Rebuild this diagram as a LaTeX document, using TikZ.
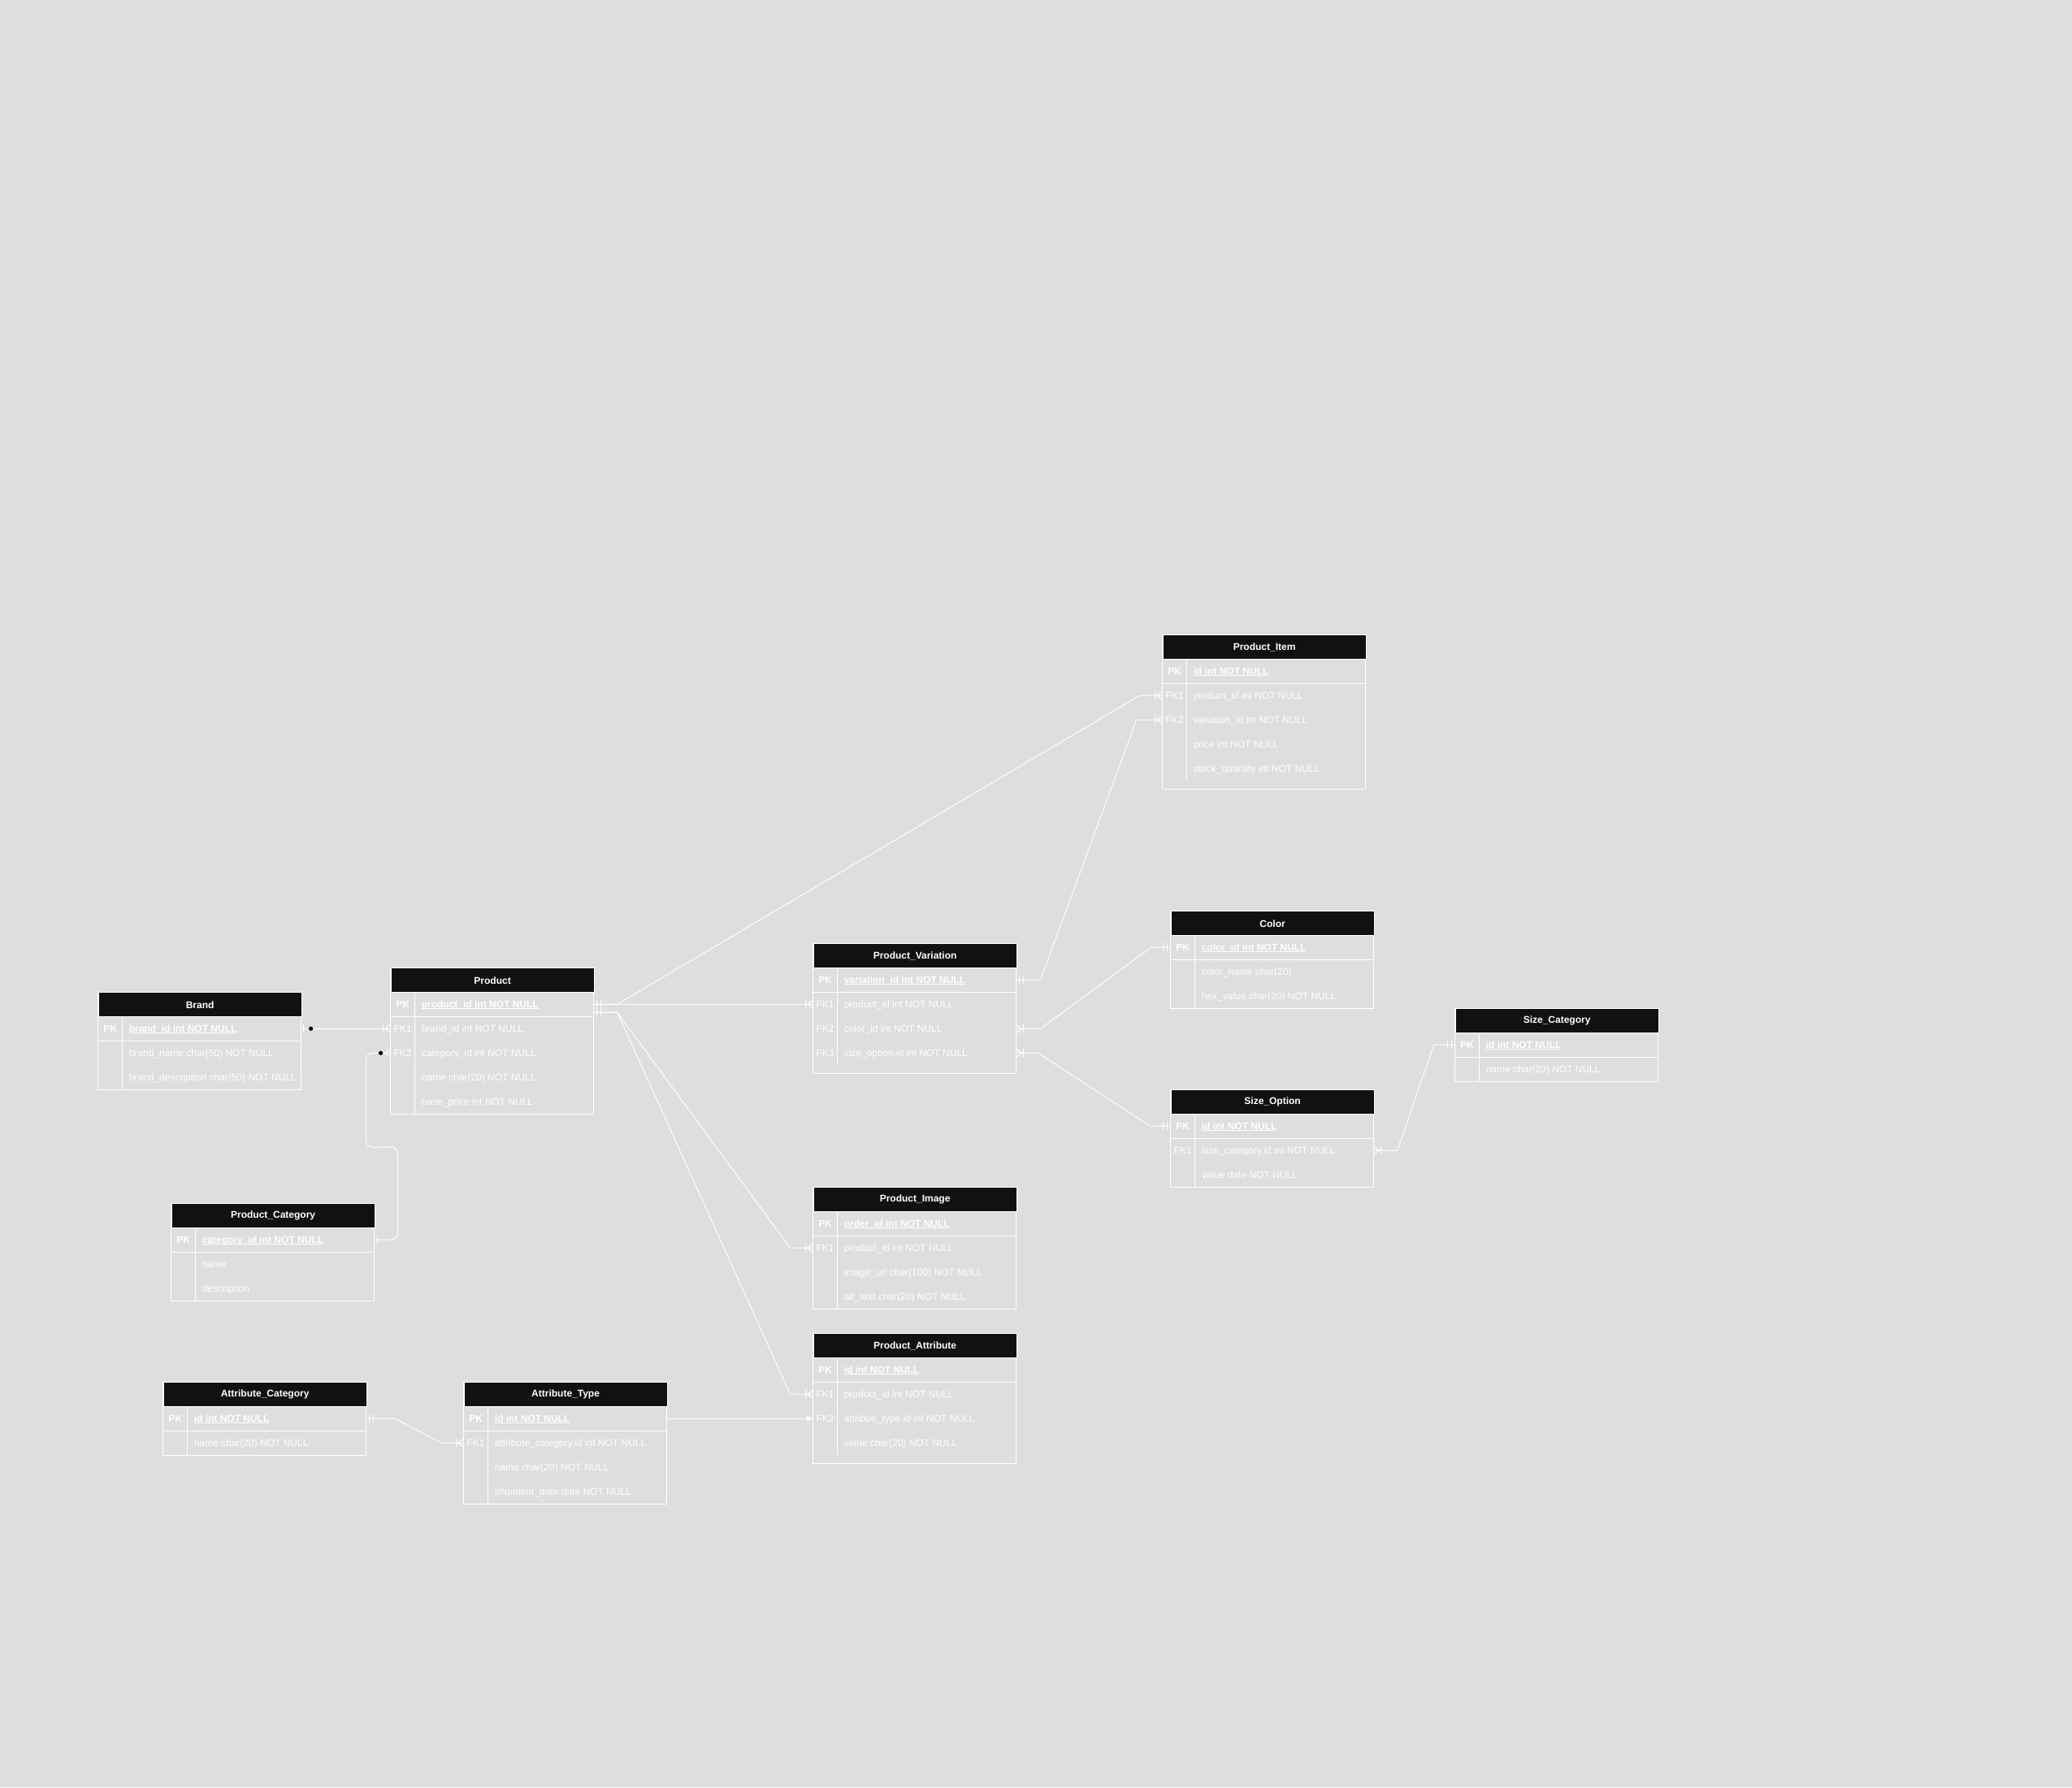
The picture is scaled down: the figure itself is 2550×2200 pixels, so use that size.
\documentclass[tikz,border=0pt]{standalone}
\usepackage{fontspec}
\setmainfont{Liberation Sans}
\usetikzlibrary{arrows.meta,calc}
\definecolor{bgc}{HTML}{DEDEDE}
\definecolor{hdrc}{HTML}{111111}
\newcommand\erfont{\fontsize{12}{14}\selectfont}
\newcommand\ulx[1]{\setbox0\hbox{#1}\rlap{\rule[-1.8pt]{\wd0}{1pt}}\box0}
\tikzset{
  tabline/.style={draw=white, line width=1pt},
  conn/.style={draw=white, line width=1pt},
  hdr/.style={fill=hdrc, draw=white, line width=1pt, text=white, font=\erfont\bfseries,
    minimum width=250pt, minimum height=30pt, inner sep=0pt, anchor=north west},
  keyt/.style={text=white, font=\erfont, inner sep=0pt, text height=10.9pt, text depth=2.5pt},
  fldt/.style={text=white, font=\erfont, inner sep=0pt, anchor=west, text height=10.9pt, text depth=2.5pt},
}
% table frame: id, x, y, title, height, divider length
\newcommand\ertab[6]{%
  \draw[tabline] (#2,#3) rectangle ++(250,#5);
  \draw[tabline] (#2,#3+60) -- ++(250,0);
  \draw[tabline] (#2+30,#3+30) -- (#2+30,#3+#6);
  \node[hdr] (#1) at (#2,#3) {#4};
}
% row: id, x, y-centre, key, text
\newcommand\errow[5]{%
  \node[keyt] (#1k) at (#2+15,#3) {#4};
  \node[fldt] (#1) at (#2+38,#3) {#5};
  \coordinate (#1L) at (#2,#3);
  \coordinate (#1R) at (#2+250,#3);
}
\newcommand\pkrow[4]{\errow{#1}{#2}{#3}{\textbf{PK}}{\textbf{\ulx{#4}}}}
% markers: coordinate, direction (1 = right, -1 = left)
\newcommand\mandone[2]{\begin{scope}[shift={(#1)},xscale=#2]
  \draw[conn] (4,-5) -- (4,5) (9,-5) -- (9,5);\end{scope}}
\newcommand\onemany[2]{\begin{scope}[shift={(#1)},xscale=#2]
  \draw[conn] (0,-5) -- (7,0) -- (0,5) (9,-5) -- (9,5);\end{scope}}
\newcommand\dotmany[2]{\begin{scope}[shift={(#1)},xscale=#2]
  \draw[conn] (0,-5) -- (7,0) -- (0,5);\fill[black] (12,0) circle (2.6);\end{scope}}
\newcommand\onedot[2]{\begin{scope}[shift={(#1)},xscale=#2]
  \draw[conn] (3,-5) -- (3,5);\fill[black] (12,0) circle (2.6);\end{scope}}
\newcommand\onebar[2]{\begin{scope}[shift={(#1)},xscale=#2]
  \draw[conn] (4,-5) -- (4,5);\end{scope}}

\begin{document}
\begin{tikzpicture}[x=1pt,y=-1pt]
\useasboundingbox (0,0) rectangle (2550,2200);
\fill[bgc] (0,0) rectangle (2550,2200);
\begin{scope}[shift={(0.6,1.2)}]

% Product_Item
\ertab{pi}{1430}{780}{Product\_Item}{190}{180}
\pkrow{piPK}{1430}{825}{id int NOT NULL}
\errow{piF1}{1430}{855}{FK1}{product\_id int NOT NULL}
\errow{piF2}{1430}{885}{FK2}{variation\_id int NOT NULL}
\errow{piR3}{1430}{915}{}{price int NOT NULL}
\errow{piR4}{1430}{945}{}{stock\_quantity int NOT NULL}

% Color
\ertab{co}{1440}{1120}{Color}{120}{120}
\pkrow{coPK}{1440}{1165}{color\_id int NOT NULL}
\errow{coR1}{1440}{1195}{}{color\_name char(20)}
\errow{coR2}{1440}{1225}{}{hex\_value char(20) NOT NULL}

% Size_Category
\ertab{sc}{1790}{1240}{Size\_Category}{90}{90}
\pkrow{scPK}{1790}{1285}{id int NOT NULL}
\errow{scR1}{1790}{1315}{}{name char(20) NOT NULL}

% Size_Option
\ertab{so}{1440}{1340}{Size\_Option}{120}{120}
\pkrow{soPK}{1440}{1385}{id int NOT NULL}
\errow{soF1}{1440}{1415}{FK1}{size\_category.id int NOT NULL}
\errow{soR2}{1440}{1445}{}{value date NOT NULL}

% Product_Variation
\ertab{pv}{1000}{1160}{Product\_Variation}{160}{150}
\pkrow{pvPK}{1000}{1205}{variation\_id int NOT NULL}
\errow{pvF1}{1000}{1235}{FK1}{product\_id int NOT NULL}
\errow{pvF2}{1000}{1265}{FK2}{color\_id int NOT NULL}
\errow{pvF3}{1000}{1295}{FK3}{size\_option.id int NOT NULL}

% Product
\ertab{pr}{480}{1190}{Product}{180}{180}
\pkrow{prPK}{480}{1235}{product\_id int NOT NULL}
\errow{prF1}{480}{1265}{FK1}{brand\_id int NOT NULL}
\errow{prF2}{480}{1295}{FK2}{category\_id int NOT NULL}
\errow{prR3}{480}{1325}{}{name char(20) NOT NULL}
\errow{prR4}{480}{1355}{}{base\_price int NOT NULL}

% Brand
\ertab{br}{120}{1220}{Brand}{120}{120}
\pkrow{brPK}{120}{1265}{brand\_id int NOT NULL}
\errow{brR1}{120}{1295}{}{brand\_name char(50) NOT NULL}
\errow{brR2}{120}{1325}{}{brand\_description char(50) NOT NULL}

% Product_Category
\ertab{pc}{210}{1480}{Product\_Category}{120}{120}
\pkrow{pcPK}{210}{1525}{category\_id int NOT NULL}
\errow{pcR1}{210}{1555}{}{name}
\errow{pcR2}{210}{1585}{}{description}

% Attribute_Category
\ertab{ac}{200}{1700}{Attribute\_Category}{90}{90}
\pkrow{acPK}{200}{1745}{id int NOT NULL}
\errow{acR1}{200}{1775}{}{name char(20) NOT NULL}

% Attribute_Type
\ertab{at}{570}{1700}{Attribute\_Type}{150}{150}
\pkrow{atPK}{570}{1745}{id int NOT NULL}
\errow{atF1}{570}{1775}{FK1}{attribute\_category.id int NOT NULL}
\errow{atR2}{570}{1805}{}{name char(20) NOT NULL}
\errow{atR3}{570}{1835}{}{shipment\_date date NOT NULL}

% Product_Image
\ertab{im}{1000}{1460}{Product\_Image}{150}{150}
\pkrow{imPK}{1000}{1505}{order\_id int NOT NULL}
\errow{imF1}{1000}{1535}{FK1}{product\_id int NOT NULL}
\errow{imR2}{1000}{1565}{}{image\_url char(100) NOT NULL}
\errow{imR3}{1000}{1595}{}{alt\_text char(20) NOT NULL}

% Product_Attribute
\ertab{pa}{1000}{1640}{Product\_Attribute}{160}{150}
\pkrow{paPK}{1000}{1685}{id int NOT NULL}
\errow{paF1}{1000}{1715}{FK1}{product\_id int NOT NULL}
\errow{paF2}{1000}{1745}{FK2}{attribue\_type.id int NOT NULL}
\errow{paR3}{1000}{1775}{}{value char(20) NOT NULL}

% ---- connectors ----
% Brand -> Product
\draw[conn] (brPKR) -- (prF1L);
\onedot{brPKR}{1}
\onemany{prF1L}{-1}

% Product_Category -> Product
\draw[conn, rounded corners=8pt] (pcPKR) -- (489,1525) -- (489,1411) -- (450,1411) -- (450,1295) -- (prF2L);
\onebar{pcPKR}{1}
\dotmany{prF2L}{-1}

% Product -> Product_Item, Product_Variation
\draw[conn] (prPKR) -- ++(29,0) -- ($(piF1L)+(-28,0)$) -- (piF1L);
\draw[conn] (prPKR) -- (pvF1L);
\mandone{prPKR}{1}
\onemany{piF1L}{-1}
\onemany{pvF1L}{-1}

% Product -> Product_Image, Product_Attribute
\coordinate (prPKR2) at ($(prPKR)+(0,10)$);
\draw[conn] (prPKR2) -- ++(29,0) -- ($(imF1L)+(-28,0)$) -- (imF1L);
\draw[conn] (prPKR2) -- ++(29,0) -- ($(paF1L)+(-28,0)$) -- (paF1L);
\mandone{prPKR2}{1}
\onemany{imF1L}{-1}
\onemany{paF1L}{-1}

% Product_Variation -> Product_Item
\draw[conn] (pvPKR) -- ++(30,0) -- ($(piF2L)+(-32,0)$) -- (piF2L);
\mandone{pvPKR}{1}
\onemany{piF2L}{-1}

% Product_Variation -> Color
\draw[conn] (pvF2R) -- ++(30,0) -- ($(coPKL)+(-24,0)$) -- (coPKL);
\onemany{pvF2R}{1}
\mandone{coPKL}{-1}

% Product_Variation -> Size_Option
\draw[conn] (pvF3R) -- ++(27,0) -- ($(soPKL)+(-25,0)$) -- (soPKL);
\onemany{pvF3R}{1}
\mandone{soPKL}{-1}

% Size_Option -> Size_Category
\draw[conn] (soF1R) -- ++(29,0) -- ($(scPKL)+(-26,0)$) -- (scPKL);
\onemany{soF1R}{1}
\mandone{scPKL}{-1}

% Attribute_Type -> Product_Attribute
\draw[conn, -{Triangle[length=8pt,width=7pt]}] (atPKR) -- (paF2L);

% Attribute_Category -> Attribute_Type
\draw[conn] (acPKR) -- ++(35,0) -- ($(atF1L)+(-27,0)$) -- (atF1L);
\mandone{acPKR}{1}
\onemany{atF1L}{-1}
\end{scope}
\end{tikzpicture}
\end{document}
